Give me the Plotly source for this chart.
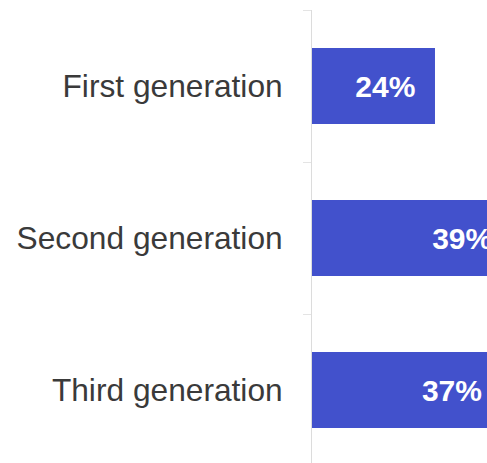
import plotly.graph_objects as go

# Share of respondents by generation
categories = ["First generation", "Second generation", "Third generation"]
values = [24, 39, 37]

bar_color = "#4251CC"

fig = go.Figure()

fig.add_trace(go.Bar(
    x=values,
    y=categories,
    orientation="h",
    marker=dict(color=bar_color, line=dict(width=0)),
    texttemplate="%{x}%\u00a0\u00a0",
    textposition="inside",
    insidetextanchor="end",
    textangle=0,
    insidetextfont=dict(family="Liberation Sans, Arial, sans-serif", size=30,
                        color="white", weight="bold"),
    cliponaxis=True,
    hoverinfo="skip",
))

fig.update_layout(
    width=487,
    height=463,
    margin=dict(l=312, r=0, t=10, b=0),
    paper_bgcolor="white",
    plot_bgcolor="white",
    bargap=0.5,
    showlegend=False,
    xaxis=dict(
        range=[0, 34.15],
        visible=False,
        showgrid=False,
        zeroline=False,
        fixedrange=True,
    ),
    yaxis=dict(
        type="category",
        categoryorder="array",
        categoryarray=categories,
        range=[2.48, -0.5],
        showline=True,
        linecolor="#dcdcdc",
        linewidth=1,
        ticks="outside",
        tickson="boundaries",
        ticklen=8,
        tickcolor="#e4e4e4",
        ticklabelstandoff=22,
        showgrid=False,
        tickfont=dict(family="Liberation Sans, Arial, sans-serif", size=31.7,
                      color="#3a3a3a"),
        fixedrange=True,
    ),
)

# drop the browser's default body margin so the figure fills the window
fig.write_html(
    "out.html",
    config={"displayModeBar": False},
    post_script="document.body.style.margin='0';document.body.style.overflow='hidden';",
)
